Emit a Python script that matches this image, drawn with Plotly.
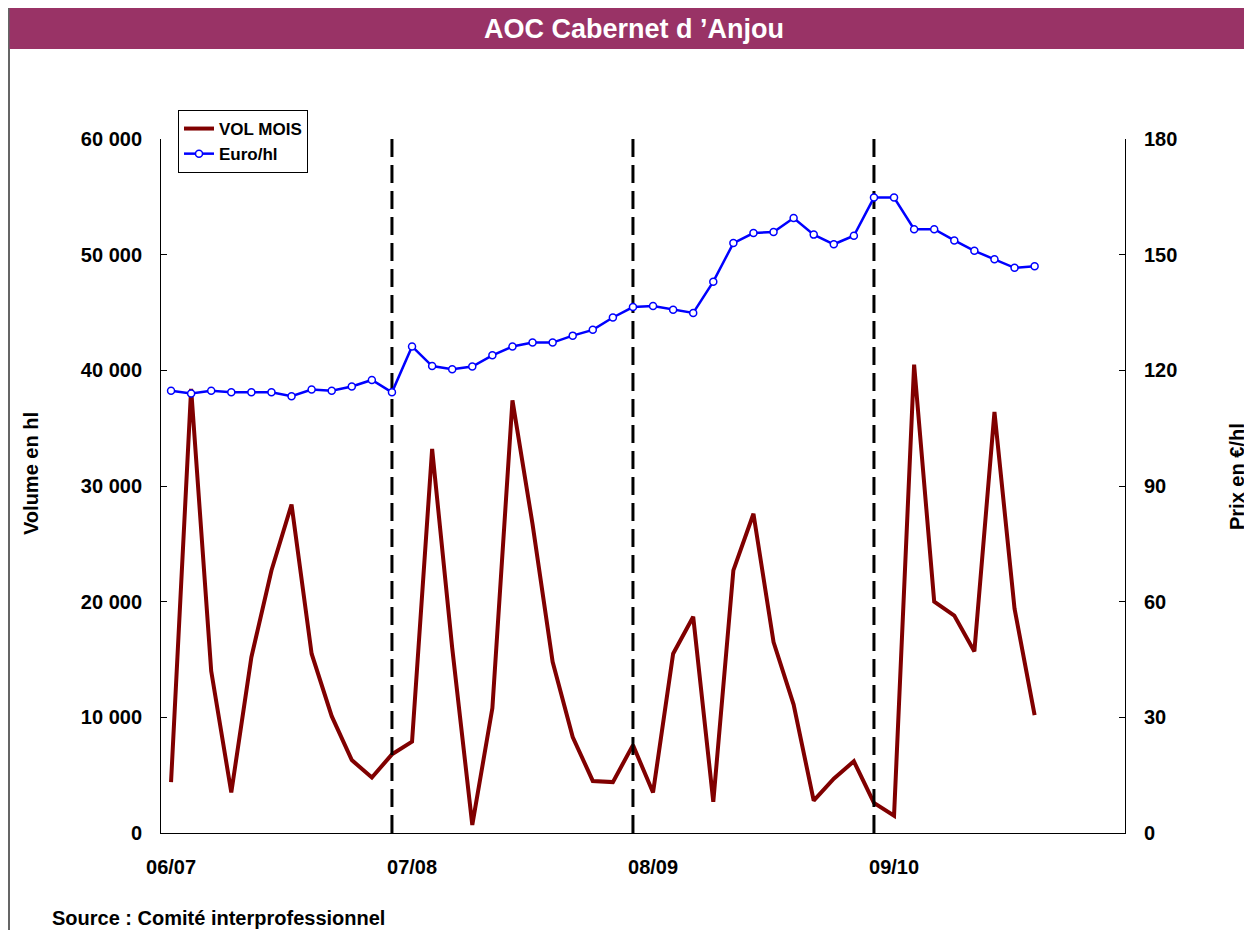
import plotly.graph_objects as go

# ---- data ----
season_labels = ["06/07", "07/08", "08/09", "09/10"]
months_per_season = 12
vol_mois = [4400, 38400, 14000, 3500, 15200, 22700, 28400, 15500, 10100, 6300, 4800, 6800,
            7900, 33200, 16000, 700, 10800, 37400, 26700, 14800, 8300, 4500, 4400, 7600,
            3500, 15500, 18700, 2700, 22700, 27600, 16500, 11100, 2800, 4700, 6200, 2600,
            1500, 40500, 20000, 18800, 15700, 36400, 19400, 10200]
euro_hl = [114.7, 114.0, 114.7, 114.3, 114.3, 114.3, 113.3, 115.0, 114.7, 115.8, 117.5, 114.3,
           126.2, 121.1, 120.3, 121.0, 123.9, 126.2, 127.2, 127.2, 129.0, 130.5, 133.7, 136.4,
           136.7, 135.7, 134.9, 143.0, 153.0, 155.6, 155.9, 159.5, 155.2, 152.7, 154.9, 164.8,
           164.8, 156.6, 156.6, 153.7, 151.0, 148.8, 146.6, 147.0]
vol_ticks = [0, 10000, 20000, 30000, 40000, 50000, 60000]
vol_ticktext = ["0", "10 000", "20 000", "30 000", "40 000", "50 000", "60 000"]
price_ticks = [0, 30, 60, 90, 120, 150, 180]
season_breaks = [11, 23, 35]  # month index of the dashed separators

months = list(range(len(vol_mois)))
n_cat = months_per_season * len(season_labels)
season_ticks = [i * months_per_season for i in range(len(season_labels))]

# page coordinates (the page body adds an 8px offset)
OFF = 8
PAGE_W, PAGE_H = 1252, 938
W, H = PAGE_W - OFF, PAGE_H - 2 * OFF
PL, PR, PT, PB = 161, 1125, 139, 833  # plot area in page pixels
L = PL - OFF
T = PT - OFF
R = W - (PR - OFF)
B = H - (PB - OFF)
pw, ph = W - L - R, H - T - B


def px(x):
    return (x - OFF - L) / pw


def py(y):
    return (H - B - (y - OFF)) / ph


FONT = "Liberation Sans, Arial, sans-serif"

fig = go.Figure()
fig.add_trace(go.Scatter(x=months, y=vol_mois, name="VOL MOIS", mode="lines",
                         line=dict(color="#800000", width=4), yaxis="y"))
for b in season_breaks:
    fig.add_trace(go.Scatter(x=[b, b], y=[vol_ticks[0], vol_ticks[-1]], mode="lines",
                             line=dict(color="black", width=3, dash="18px,8px"),
                             showlegend=False, hoverinfo="skip", yaxis="y"))
fig.add_trace(go.Scatter(x=months, y=euro_hl, name="Euro/hl", mode="lines+markers",
                         line=dict(color="#0000FF", width=2.5),
                         marker=dict(symbol="circle", size=7, color="white",
                                     line=dict(color="#0000FF", width=1.5)),
                         yaxis="y2"))

fig.update_layout(
    width=W, height=H,
    margin=dict(l=L, r=R, t=T, b=B, autoexpand=False),
    paper_bgcolor="white", plot_bgcolor="white",
    font=dict(family=FONT, color="black", size=20),
    showlegend=True,
    legend=dict(x=px(178), y=py(110), xanchor="left", yanchor="top",
                bgcolor="white", bordercolor="black", borderwidth=1,
                font=dict(size=17, weight="bold"), tracegroupgap=0,
                itemwidth=30),
    xaxis=dict(range=[-0.5, n_cat - 0.5], tickvals=season_ticks, ticktext=season_labels,
               showgrid=False, zeroline=False, showline=True, linecolor="black", linewidth=1,
               ticks="", tickfont=dict(size=20, weight="bold"), ticklabelstandoff=16),
    yaxis=dict(range=[vol_ticks[0], vol_ticks[-1]], tickvals=vol_ticks, ticktext=vol_ticktext,
               showgrid=False, zeroline=False, showline=True, linecolor="black", linewidth=1,
               ticks="inside", ticklen=6, tickcolor="black",
               tickfont=dict(size=20, weight="bold"), ticklabelstandoff=14),
    yaxis2=dict(range=[price_ticks[0], price_ticks[-1]], tickvals=price_ticks,
                overlaying="y", side="right",
                showgrid=False, zeroline=False, showline=True, linecolor="black", linewidth=1,
                ticks="inside", ticklen=6, tickcolor="black",
                tickfont=dict(size=20, weight="bold"), ticklabelstandoff=14),
)

# outer frame and title band
fig.add_shape(type="rect", xref="paper", yref="paper",
              x0=px(9), x1=px(1270), y0=py(960), y1=py(5.5),
              line=dict(color="#333333", width=1.5), fillcolor="rgba(0,0,0,0)", layer="below")
fig.add_shape(type="rect", xref="paper", yref="paper",
              x0=px(9.5), x1=px(1270), y0=py(49), y1=py(6.5),
              line=dict(width=0), fillcolor="#993366", layer="below")
fig.add_annotation(text="AOC Cabernet d \u2019Anjou", xref="paper", yref="paper",
                   x=px(634), y=py(29), showarrow=False, xanchor="center", yanchor="middle",
                   font=dict(size=27, color="white", weight="bold"))
fig.add_annotation(text="Volume en hl", xref="paper", yref="paper",
                   x=px(31), y=py(474), showarrow=False, textangle=-90,
                   xanchor="center", yanchor="middle", font=dict(size=20, weight="bold"))
fig.add_annotation(text="Prix en \u20ac/hl", xref="paper", yref="paper",
                   x=px(1237), y=py(477), showarrow=False, textangle=-90,
                   xanchor="center", yanchor="middle", font=dict(size=20, weight="bold"))
fig.add_annotation(text="Source : Comité interprofessionnel", xref="paper", yref="paper",
                   x=px(50), y=py(918), showarrow=False, xanchor="left", yanchor="middle",
                   font=dict(size=20, weight="bold"))

fig.write_html("out.html")
